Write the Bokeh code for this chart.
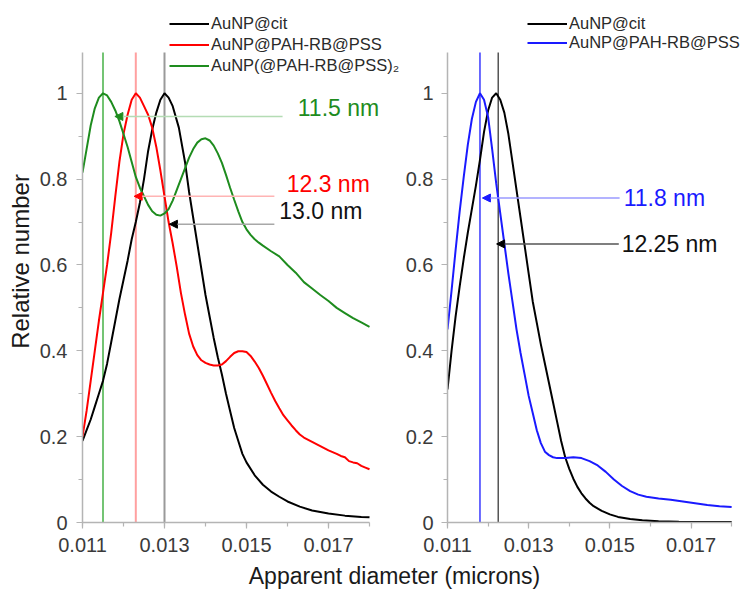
from bokeh.plotting import figure
from bokeh.models import (Range1d, FixedTicker, CustomJSTickFormatter, Arrow,
                          NormalHead, Label, Legend, LegendItem)
from bokeh.layouts import row, column
from bokeh.embed import file_html
from bokeh.resources import INLINE

FONT = "Liberation Sans"

# ---------------- left panel: three samples ----------------
cit_a_x = [0.0110, 0.0111, 0.0112, 0.0113, 0.0114, 0.0115, 0.0116, 0.0117, 0.0118, 0.0119,
           0.0120, 0.0121, 0.0122, 0.0123, 0.0124, 0.0125, 0.0126, 0.0127, 0.0128, 0.0129,
           0.0130, 0.0131, 0.0132, 0.01335, 0.0135, 0.0136, 0.0137, 0.0138, 0.0139, 0.0140,
           0.0141, 0.0142, 0.0143, 0.0144, 0.0145, 0.0146, 0.0147, 0.0148, 0.0149, 0.0150,
           0.0152, 0.0154, 0.0156, 0.0158, 0.0160, 0.0163, 0.0166, 0.0170, 0.0174, 0.0178, 0.0180]
cit_a_y = [0.19, 0.215, 0.24, 0.27, 0.30, 0.33, 0.37, 0.42, 0.47, 0.52,
           0.565, 0.61, 0.66, 0.70, 0.745, 0.80, 0.865, 0.915, 0.955, 0.985,
           1.0, 0.99, 0.97, 0.92, 0.84, 0.77, 0.71, 0.65, 0.59, 0.53,
           0.48, 0.43, 0.385, 0.345, 0.30, 0.26, 0.22, 0.19, 0.16, 0.14,
           0.11, 0.088, 0.072, 0.06, 0.049, 0.037, 0.028, 0.021, 0.016, 0.013, 0.012]

pss_x = [0.0110, 0.0111, 0.0112, 0.0113, 0.0114, 0.0115, 0.0116, 0.0117, 0.0118, 0.0119,
         0.0120, 0.0121, 0.0122, 0.0123, 0.0124, 0.0125, 0.0126, 0.0127, 0.0128, 0.0129,
         0.0130, 0.0131, 0.0132, 0.0133, 0.0134, 0.0135, 0.0136, 0.0137, 0.0138, 0.0139,
         0.0140, 0.0141, 0.0142, 0.0143, 0.0144, 0.0145, 0.0146, 0.0147, 0.0148, 0.0149,
         0.0150, 0.0151, 0.0152, 0.0153, 0.0154, 0.0155, 0.0156, 0.0157, 0.0158, 0.0159,
         0.0160, 0.0161, 0.0162, 0.0163, 0.0164, 0.0166, 0.0168, 0.0170, 0.0172, 0.0173,
         0.0174, 0.0175, 0.0176, 0.0177, 0.0178, 0.0179, 0.0180]
pss_y = [0.20, 0.26, 0.33, 0.40, 0.47, 0.535, 0.60, 0.675, 0.76, 0.84,
         0.905, 0.95, 0.985, 1.0, 0.99, 0.97, 0.95, 0.92, 0.875, 0.82,
         0.76, 0.70, 0.65, 0.595, 0.535, 0.485, 0.44, 0.41, 0.39, 0.378,
         0.372, 0.368, 0.366, 0.366, 0.368, 0.376, 0.386, 0.395, 0.399, 0.399,
         0.397, 0.388, 0.375, 0.360, 0.342, 0.322, 0.302, 0.283, 0.266, 0.25,
         0.238, 0.226, 0.215, 0.205, 0.198, 0.188, 0.178, 0.168, 0.16, 0.155,
         0.152, 0.143, 0.14, 0.138, 0.132, 0.128, 0.124]

pss2_x = [0.0110, 0.0111, 0.0112, 0.0113, 0.0114, 0.0115, 0.0116, 0.0117, 0.0118, 0.0119,
          0.0120, 0.0121, 0.0122, 0.0123, 0.0124, 0.0125, 0.0126, 0.0127, 0.0128, 0.0129,
          0.0130, 0.0131, 0.0132, 0.0133, 0.0134, 0.0135, 0.0136, 0.0137, 0.0138, 0.0139,
          0.0140, 0.0141, 0.0142, 0.0143, 0.0144, 0.0145, 0.0146, 0.0147, 0.0148, 0.0149,
          0.0150, 0.0151, 0.0152, 0.0153, 0.0154, 0.0156, 0.0158, 0.0160, 0.0162, 0.0164,
          0.0166, 0.0168, 0.0170, 0.0172, 0.0174, 0.0176, 0.0178, 0.0180]
pss2_y = [0.815, 0.87, 0.925, 0.965, 0.99, 1.0, 0.995, 0.98, 0.96, 0.935,
          0.905, 0.875, 0.84, 0.805, 0.78, 0.76, 0.74, 0.725, 0.717, 0.715,
          0.72, 0.73, 0.75, 0.775, 0.80, 0.825, 0.85, 0.87, 0.885, 0.893,
          0.895, 0.89, 0.878, 0.86, 0.838, 0.81, 0.78, 0.752, 0.725, 0.70,
          0.683, 0.67, 0.66, 0.652, 0.645, 0.632, 0.62, 0.60, 0.582, 0.56,
          0.545, 0.53, 0.516, 0.50, 0.488, 0.476, 0.466, 0.456]

# ---------------- right panel: two samples ----------------
cit_b_x = [0.0110, 0.0111, 0.0112, 0.0113, 0.0114, 0.0115, 0.0116, 0.0117, 0.0118, 0.0119,
           0.0120, 0.0121, 0.0122, 0.0123, 0.0124, 0.0125, 0.0126, 0.0127, 0.0128, 0.0129,
           0.0130, 0.0131, 0.0132, 0.0133, 0.0134, 0.0135, 0.0136, 0.0137, 0.0138, 0.0139,
           0.0140, 0.0141, 0.0142, 0.0143, 0.0144, 0.0145, 0.0146, 0.0148, 0.0150, 0.0152,
           0.0155, 0.0158, 0.0162, 0.0167, 0.0173, 0.0180]
cit_b_y = [0.31, 0.40, 0.48, 0.55, 0.615, 0.675, 0.73, 0.785, 0.845, 0.91,
           0.96, 0.99, 1.0, 0.985, 0.955, 0.905, 0.84, 0.775, 0.71, 0.645,
           0.58, 0.515, 0.465, 0.415, 0.37, 0.325, 0.28, 0.235, 0.19, 0.152,
           0.125, 0.102, 0.083, 0.068, 0.056, 0.046, 0.038, 0.027, 0.019, 0.013,
           0.008, 0.005, 0.003, 0.002, 0.001, 0.001]

rb_x = [0.0110, 0.0111, 0.0112, 0.0113, 0.0114, 0.0115, 0.0116, 0.0117, 0.0118, 0.0119,
        0.0120, 0.0121, 0.0122, 0.0123, 0.0124, 0.0125, 0.0126, 0.0127, 0.0128, 0.0129,
        0.0130, 0.0131, 0.0132, 0.0133, 0.0134, 0.0135, 0.0136, 0.0137, 0.0139, 0.0141,
        0.0143, 0.0145, 0.0147, 0.0149, 0.0151, 0.0153, 0.0155, 0.0157, 0.0159, 0.0162,
        0.0165, 0.0168, 0.0171, 0.0174, 0.0177, 0.0180]
rb_y = [0.45, 0.54, 0.635, 0.725, 0.805, 0.88, 0.94, 0.98, 1.0, 0.985,
        0.945, 0.87, 0.79, 0.72, 0.65, 0.58, 0.515, 0.45, 0.395, 0.345,
        0.295, 0.255, 0.215, 0.185, 0.165, 0.157, 0.152, 0.150, 0.150, 0.152,
        0.150, 0.143, 0.133, 0.118, 0.10, 0.085, 0.073, 0.065, 0.060, 0.056,
        0.053, 0.049, 0.045, 0.041, 0.038, 0.036]

# mean diameters (microns) and their labels
peaks_left = [0.0130, 0.0123, 0.0115]
peaks_right = [0.01225, 0.0118]
peak_labels_left = ["13.0 nm", "12.3 nm", "11.5 nm"]
peak_labels_right = ["12.25 nm", "11.8 nm"]
names_left = ["AuNP@cit", "AuNP@PAH-RB@PSS", "AuNP(@PAH-RB@PSS)\u2082"]
names_right = ["AuNP@cit", "AuNP@PAH-RB@PSS"]

x_major = [0.011, 0.013, 0.015, 0.017]
x_minor = [0.011, 0.012, 0.013, 0.014, 0.015, 0.016, 0.017, 0.018]
y_major = [0, 0.2, 0.4, 0.6, 0.8, 1.0]
y_minor = [0.1, 0.3, 0.5, 0.7, 0.9]
x_lim = (0.011, 0.018)
y_lim = (0.0, 1.095)

AXIS_GREY = "#b4b4b4"
TICK_TEXT = "#3a3a3a"
GREEN = "#1e8c1e"

PX_PER_X = 287 / (x_lim[1] - x_lim[0])     # frame pixels per micron
PX_PER_Y = 470 / (y_lim[1] - y_lim[0])     # frame pixels per unit of relative number
FRAME_BOTTOM = 522                         # frame spans y from 0 to here
FIG_H = 561


def make_panel(width, border_left, ylabel, label_standoff):
    # the plotting frame runs to the top and right edges so that the legend and
    # the callout texts beside the data are not cut; the axes keep the data limits
    frame_w = width - border_left
    x_end = x_lim[0] + frame_w / PX_PER_X
    y_end = y_lim[0] + FRAME_BOTTOM / PX_PER_Y
    p = figure(width=width, height=FIG_H, output_backend="svg", toolbar_location=None,
               x_range=Range1d(x_lim[0], x_end), y_range=Range1d(y_lim[0], y_end),
               min_border_left=border_left, min_border_right=0,
               min_border_top=0, min_border_bottom=FIG_H - FRAME_BOTTOM)
    p.outline_line_color = None
    p.grid.visible = False
    p.background_fill_color = "white"
    p.border_fill_color = "white"

    p.xaxis.ticker = FixedTicker(ticks=x_major, minor_ticks=x_minor)
    p.yaxis.ticker = FixedTicker(ticks=y_major, minor_ticks=y_minor)
    p.xaxis.bounds = x_lim
    p.yaxis.bounds = y_lim
    p.xaxis.formatter = CustomJSTickFormatter(code="return tick.toFixed(3)")
    p.yaxis.formatter = CustomJSTickFormatter(code="return String(+tick.toFixed(1))")
    for ax in (p.xaxis, p.yaxis):
        ax.axis_line_color = AXIS_GREY
        ax.axis_line_width = 1.5
        ax.major_tick_line_color = AXIS_GREY
        ax.minor_tick_line_color = AXIS_GREY
        ax.major_tick_line_width = 1.2
        ax.minor_tick_line_width = 1.2
        ax.major_tick_in = 0
        ax.minor_tick_in = 0
        ax.major_tick_out = 6
        ax.minor_tick_out = 4
        ax.major_label_text_font = FONT
        ax.major_label_text_font_size = "20px"
        ax.major_label_text_color = TICK_TEXT
    p.xaxis.major_label_standoff = 9
    p.yaxis.major_label_standoff = label_standoff
    if ylabel:
        p.yaxis.axis_label = ylabel
        p.yaxis.axis_label_text_font = FONT
        p.yaxis.axis_label_text_font_size = "24px"
        p.yaxis.axis_label_text_font_style = "normal"
        p.yaxis.axis_label_text_color = "#1a1a1a"
        p.yaxis.axis_label_standoff = 3
    return p


def add_marker_lines(p, xs, colors, width):
    p.segment(x0=xs, y0=[y_lim[0]] * len(xs), x1=xs, y1=[y_lim[1]] * len(xs),
              line_color=colors, line_width=width)


def add_callout(p, x_tip, x_end, y, line_color, head_color, text, tx, ty, text_color):
    p.add_layout(Arrow(end=NormalHead(size=8, fill_color=head_color, line_color=head_color,
                                      line_width=1),
                       x_start=x_end, y_start=y, x_end=x_tip, y_end=y,
                       line_color=line_color, line_width=1.5))
    p.add_layout(Label(x=tx, y=ty, text=text, text_font=FONT, text_font_size="23px",
                       text_color=text_color, text_baseline="middle", text_align="left"))


# ---------------- left panel ----------------
p1 = make_panel(402, 82, "Relative number", 9)
add_marker_lines(p1, peaks_left, ["#9a9a9a", "#ffa0a0", "#74c474"], 2)

r_cit = p1.line(cit_a_x, cit_a_y, line_color="black", line_width=2)
r_pss = p1.line(pss_x, pss_y, line_color="#ff0000", line_width=2)
r_pss2 = p1.line(pss2_x, pss2_y, line_color=GREEN, line_width=2)

add_callout(p1, 0.01179, 0.01588, 0.946, "#b4dcb4", GREEN, peak_labels_left[2],
            0.01625, 0.965, GREEN)
add_callout(p1, 0.01226, 0.01568, 0.760, "#ffb4b4", "#ff0000", peak_labels_left[1],
            0.01598, 0.788, "#ff0000")
add_callout(p1, 0.01312, 0.01568, 0.695, "#a8a8a8", "black", peak_labels_left[0],
            0.01580, 0.726, "#111111")

leg1 = Legend(items=[LegendItem(label=names_left[0], renderers=[r_cit]),
                     LegendItem(label=names_left[1], renderers=[r_pss]),
                     LegendItem(label=names_left[2], renderers=[r_pss2])],
              location=(87, 446), glyph_width=40, glyph_height=21, label_height=21,
              label_standoff=2, spacing=0, padding=0, margin=0,
              border_line_color=None, background_fill_alpha=0,
              label_text_font=FONT, label_text_font_size="16.5px",
              label_text_color="#2a2a2a")
p1.add_layout(leg1)

# ---------------- right panel ----------------
p2 = make_panel(342, 42, None, 8)
add_marker_lines(p2, peaks_right, ["#555555", "#3a3aff"], 1.5)

r_cit_b = p2.line(cit_b_x, cit_b_y, line_color="black", line_width=2)
r_rb = p2.line(rb_x, rb_y, line_color="#1a1aff", line_width=2)

add_callout(p2, 0.01186, 0.01524, 0.756, "#9a9aff", "#1a1aff", peak_labels_right[1],
            0.01534, 0.757, "#1a1aff")
add_callout(p2, 0.01221, 0.01522, 0.649, "#555555", "black", peak_labels_right[0],
            0.01529, 0.650, "#111111")

leg2 = Legend(items=[LegendItem(label=names_right[0], renderers=[r_cit_b]),
                     LegendItem(label=names_right[1], renderers=[r_rb])],
              location=(80, 470), glyph_width=40, glyph_height=19, label_height=19,
              label_standoff=2, spacing=0, padding=0, margin=0,
              border_line_color=None, background_fill_alpha=0,
              label_text_font=FONT, label_text_font_size="16.5px",
              label_text_color="#2a2a2a")
p2.add_layout(leg2)

# ---------------- shared x-axis title ----------------
TITLE_H = 589 - FIG_H
p3 = figure(width=744, height=TITLE_H, output_backend="svg", toolbar_location=None,
            x_range=Range1d(0, 744), y_range=Range1d(0, TITLE_H),
            x_axis_location=None, y_axis_location=None,
            min_border_left=0, min_border_right=0, min_border_top=0, min_border_bottom=0)
p3.outline_line_color = None
p3.grid.visible = False
p3.add_layout(Label(x=394, y=14, text="Apparent diameter (microns)", text_font=FONT,
                    text_font_size="23px", text_color="#1a1a1a",
                    text_align="center", text_baseline="middle"))

layout = column(row(p1, p2), p3)

with open("out.html", "w") as f:
    f.write(file_html(layout, INLINE))
